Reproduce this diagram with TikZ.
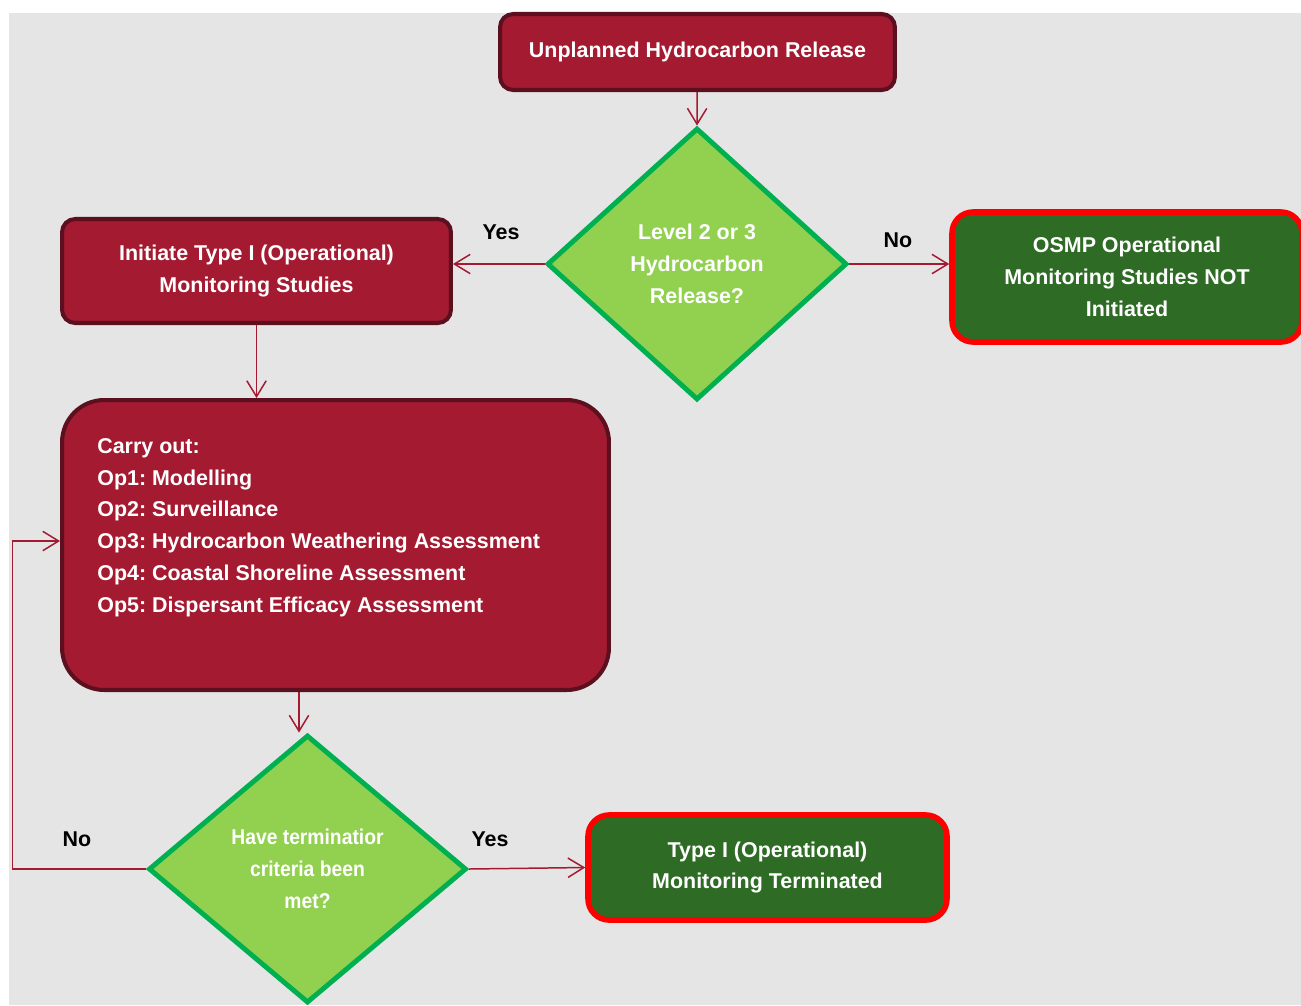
\documentclass[tikz,border=0pt]{standalone}
\usepackage{fontspec}
\setmainfont{Liberation Sans}
\newfontfamily\narrowsans{Liberation Sans}[FakeStretch=0.9]
\frenchspacing
\usetikzlibrary{arrows.meta, positioning, shapes.geometric}
\definecolor{boxred}{HTML}{A41A31}
\definecolor{boxedge}{HTML}{5C0F1E}
\definecolor{endgreen}{HTML}{2E6B24}
\definecolor{endedge}{HTML}{FF0000}
\definecolor{askfill}{HTML}{92D050}
\definecolor{askedge}{HTML}{00B050}
\definecolor{backgray}{HTML}{E5E5E5}
\tikzset{%
	txt/.style={font=\fontsize{12.2}{18.1}\selectfont\bfseries},
	task/.style={draw=boxedge, fill=boxred, line width=2.3pt, rectangle,%
		rounded corners=7.5pt, text=white, align=center, txt, inner sep=0mm},
	endbox/.style={draw=endedge, fill=endgreen, line width=3.2pt, rectangle,%
		rounded corners=12pt, text=white, align=center, txt, inner sep=0mm},
	ask/.style={draw=askedge, fill=askfill, diamond, line width=2.8pt,%
		text=white, align=center, txt, inner sep=0mm},
	flow/.style={->, draw=boxred, line width=0.85pt},
	answer/.style={txt, text=black, inner sep=0mm}
}

\begin{document}
\begin{tikzpicture}[x=0.02cm, y=-0.02cm, >={Straight Barb[length=9pt,width=11pt]}]
	\useasboundingbox (0,0) rectangle (1301,1005);
	\fill[backgray] (9,13) rectangle (1301,1005);

	\node[task, minimum width=7.9cm, minimum height=1.52cm] (unpl) at (697.5,52) {Unplanned Hydrocarbon Release};
	\node[ask, minimum width=6cm, minimum height=5.44cm] (lvl) at (697,264) {Level 2 or 3\\Hydrocarbon\\Release?};
	\node[task, minimum width=7.78cm, minimum height=2.08cm] (init) at (256.5,271) {Initiate Type I (Operational)\\Monitoring Studies};
	\node[endbox, minimum width=7cm, minimum height=2.6cm] (osmp) at (1127,277) {OSMP Operational\\Monitoring Studies NOT\\Initiated};
	\node[task, rounded corners=24pt, minimum width=10.94cm, minimum height=5.8cm] (ops) at (335.5,545) {};
	\node[txt, text=white, align=left, anchor=north west, inner sep=0mm] (opstext) at (97,438) {Carry out:\\Op1: Modelling\\Op2: Surveillance\\Op3: Hydrocarbon Weathering Assessment\\Op4: Coastal Shoreline Assessment\\Op5: Dispersant Efficacy Assessment};
	\node[ask, font=\fontsize{12.2}{18.1}\selectfont\narrowsans\bfseries, minimum width=6.36cm, minimum height=5.36cm] (term) at (307.5,869) {Have terminatior\\criteria been\\met?};
	\node[endbox, minimum width=7.18cm, minimum height=2.1cm] (done) at (767.5,867.5) {Type I (Operational)\\Monitoring Terminated};

	\node[answer] (yes1) at (501,232) {Yes};
	\node[answer] (no1) at (898,240) {No};
	\node[answer] (no2) at (77,839) {No};
	\node[answer] (yes2) at (490,839) {Yes};

	\coordinate (back) at (12.5,541);
	\coordinate (drop) at ([xshift=-0.73cm]ops.south);

	\draw[flow] (unpl) -- (lvl.north);
	\draw[flow] (lvl.west) -- (lvl.west -| init.east);
	\draw[flow] (lvl.east) -- (lvl.east -| osmp.west);
	\draw[flow] (init) -- (init.south |- ops.north);
	\draw[flow] (drop) -- (drop |- term.north);
	\draw[flow] (term.east) -- (done.west);
	\draw[flow] (term.west) -| (back) -- (back -| ops.west);
\end{tikzpicture}
\end{document}
